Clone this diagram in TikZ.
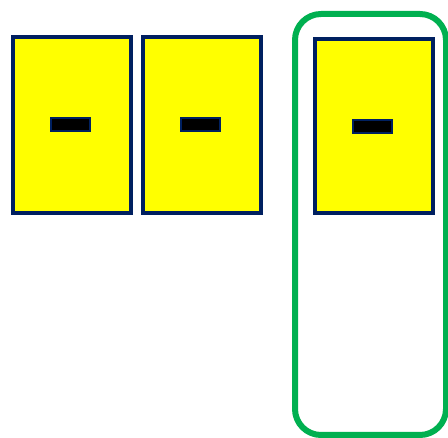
\documentclass[tikz,border=0pt]{standalone}
\definecolor{dblue}{HTML}{002060}
\definecolor{ggreen}{HTML}{00B050}
\definecolor{yel}{HTML}{FFFF00}
\begin{document}
\begin{tikzpicture}[x=1pt,y=-1pt,
  card/.style={draw=dblue,fill=yel,line width=4pt,minimum width=118pt,minimum height=176pt,inner sep=0pt,anchor=center},
  bar/.style={draw=dblue,fill=black,line width=2pt,minimum width=39pt,minimum height=13pt,inner sep=0pt},
  frame/.style={draw=ggreen,line width=6pt,rounded corners=26pt}]
\useasboundingbox (0,0) rectangle (448,438);
\fill[white] (0,0) rectangle (448,438);
\draw[frame] (295,14) rectangle (446,435);
\node[card] (c1) at (72,125) {};
\node[card] (c2) at (202,125) {};
\node[card,minimum height=174pt] (c3) at (374,126) {};
\node[bar] (b1) at (70.5,124.5) {};
\node[bar] (b2) at (200.5,124.5) {};
\node[bar] (b3) at (372.5,126.5) {};
\end{tikzpicture}
\end{document}
